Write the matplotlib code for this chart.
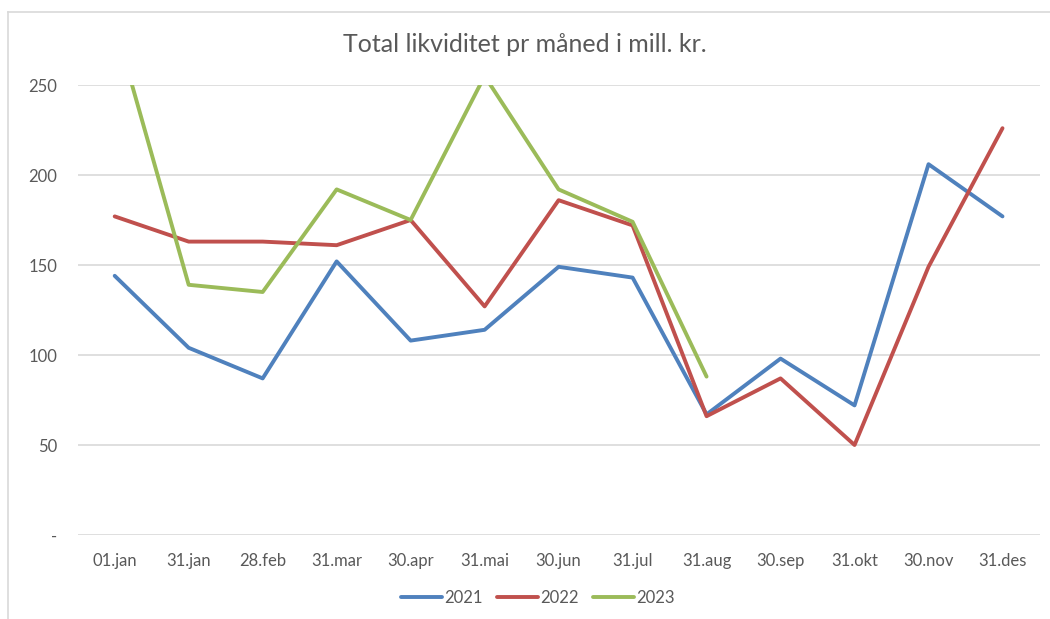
import matplotlib

matplotlib.use("Agg")
import matplotlib.pyplot as plt
from matplotlib.lines import Line2D

plt.rcParams["font.family"] = ["Lato", "DejaVu Sans"]

# Values (mill. kr.)
dates = ["01.jan", "31.jan", "28.feb", "31.mar", "30.apr", "31.mai", "30.jun",
         "31.jul", "31.aug", "30.sep", "31.okt", "30.nov", "31.des"]
y2021 = [144, 104, 87, 152, 108, 114, 149, 143, 67, 98, 72, 206, 177]
y2022 = [177, 163, 163, 161, 175, 127, 186, 172, 66, 87, 50, 149, 226]
y2023 = [284, 139, 135, 192, 175, 255, 192, 174, 88]

years = ["2021", "2022", "2023"]
colors = ["#4F81BD", "#C0504D", "#9BBB59"]
text_col = "#595959"
grid_col = "#D9D9D9"

fig = plt.figure(figsize=(10.5, 6.19), dpi=100)
ax = fig.add_axes([0.074, 1 - 535 / 619, 0.916, (535 - 85) / 619])

# chart area border (top and left edges only are visible)
fig.add_artist(Line2D([8 / 1050, 1.0], [1 - 12 / 619] * 2, color=grid_col,
                      lw=1.2, transform=fig.transFigure))
fig.add_artist(Line2D([8 / 1050] * 2, [0, 1 - 12 / 619], color=grid_col,
                      lw=1.2, transform=fig.transFigure))

x = list(range(len(dates)))
for series, year, c in zip([y2021, y2022, y2023], years, colors):
    ax.plot(x[:len(series)], series, color=c, lw=2.8, label=year,
            solid_joinstyle="round", solid_capstyle="round")

ax.set_xlim(-0.5, len(dates) - 0.5)
ax.set_ylim(0, 250)
ax.set_yticks([0, 50, 100, 150, 200, 250])
ax.set_yticklabels(["-", "50", "100", "150", "200", "250"])
ax.set_xticks(x)
ax.set_xticklabels(dates)
ax.yaxis.grid(True, color=grid_col, lw=1.2)
ax.set_axisbelow(True)
for s in ax.spines.values():
    s.set_visible(False)
ax.tick_params(length=0, labelsize=12, colors=text_col)
ax.tick_params(axis="x", pad=13)
ax.tick_params(axis="y", pad=14.5)

fig.text(0.5, 1 - 45 / 619, "Total likviditet pr måned i mill. kr.",
         ha="center", va="center", fontsize=18, color=text_col)

fig.legend(loc="center", bbox_to_anchor=(0.512, 1 - 598 / 619), ncol=3,
           frameon=False, fontsize=12, labelcolor=text_col,
           handlelength=2.5, handletextpad=0.1, columnspacing=0.85)

fig.savefig("out.png", dpi=100)
